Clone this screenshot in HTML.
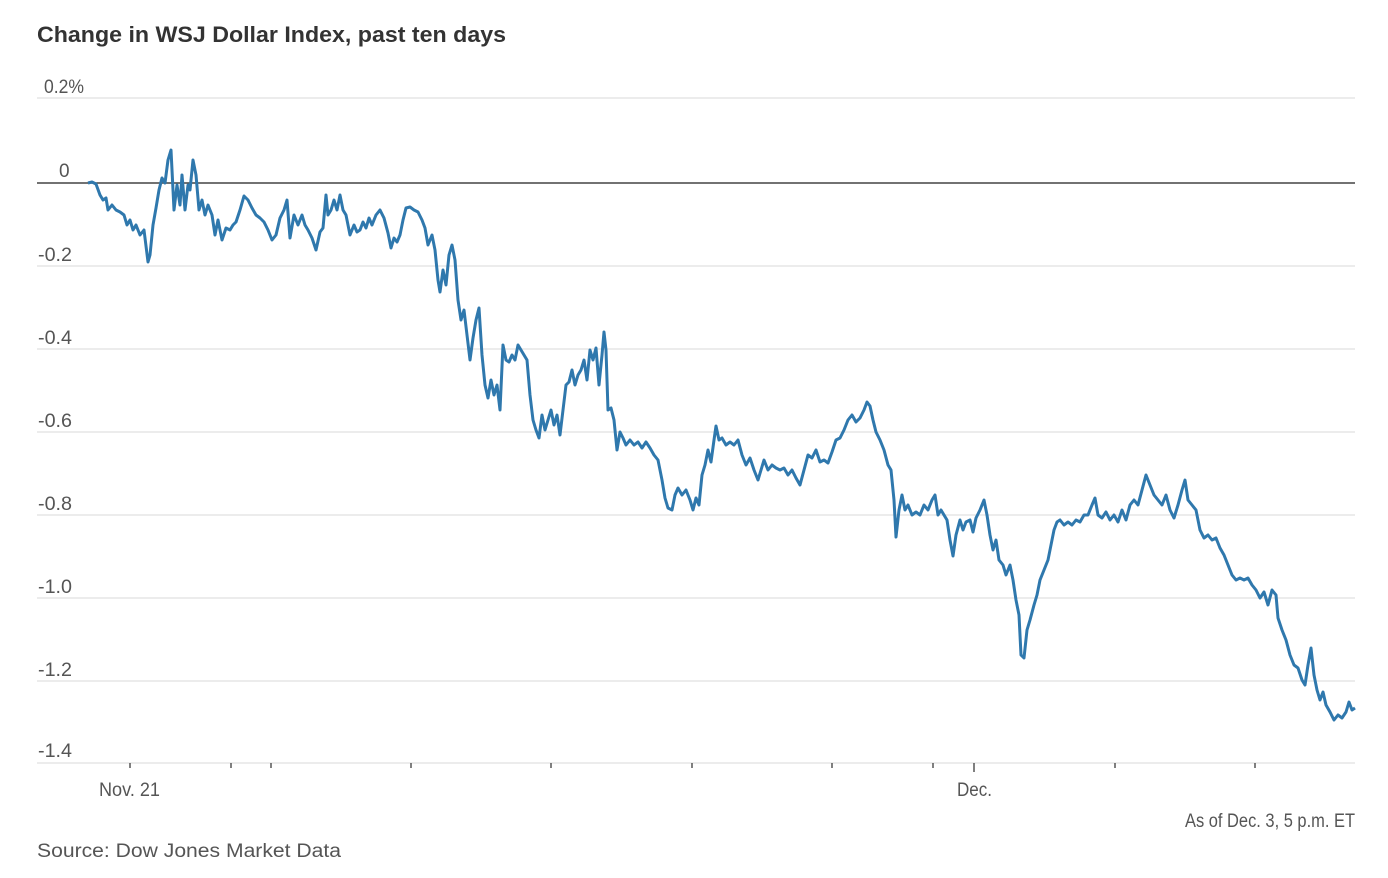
<!DOCTYPE html>
<html><head><meta charset="utf-8"><style>
body{margin:0;background:#fff;}
svg{display:block;}
text{font-family:"Liberation Sans",Arial,sans-serif;}
</style></head><body>
<svg width="1388" height="878" viewBox="0 0 1388 878" xmlns="http://www.w3.org/2000/svg">
<text x="37" y="42" font-size="22" font-weight="bold" fill="#333" textLength="469" lengthAdjust="spacingAndGlyphs">Change in WSJ Dollar Index, past ten days</text>
<g stroke="#e6e6e6" stroke-width="1.5">
<line x1="37" x2="1355" y1="98" y2="98"/>
<line x1="37" x2="1355" y1="266" y2="266"/>
<line x1="37" x2="1355" y1="349" y2="349"/>
<line x1="37" x2="1355" y1="432" y2="432"/>
<line x1="37" x2="1355" y1="515" y2="515"/>
<line x1="37" x2="1355" y1="598" y2="598"/>
<line x1="37" x2="1355" y1="681" y2="681"/>
<line x1="37" x2="1355" y1="763" y2="763"/>
</g>
<line x1="37" x2="1355" y1="183" y2="183" stroke="#444" stroke-width="1.5"/>
<g font-size="19" fill="#555">
<text x="44" y="93" textLength="40" lengthAdjust="spacingAndGlyphs">0.2%</text>
<text x="59" y="177">0</text>
<text x="38" y="261" textLength="34" lengthAdjust="spacingAndGlyphs">-0.2</text>
<text x="38" y="344" textLength="34" lengthAdjust="spacingAndGlyphs">-0.4</text>
<text x="38" y="427" textLength="34" lengthAdjust="spacingAndGlyphs">-0.6</text>
<text x="38" y="510" textLength="34" lengthAdjust="spacingAndGlyphs">-0.8</text>
<text x="38" y="593" textLength="34" lengthAdjust="spacingAndGlyphs">-1.0</text>
<text x="38" y="676" textLength="34" lengthAdjust="spacingAndGlyphs">-1.2</text>
<text x="38" y="757" textLength="34" lengthAdjust="spacingAndGlyphs">-1.4</text>
<text x="99" y="796" textLength="61" lengthAdjust="spacingAndGlyphs">Nov. 21</text>
<text x="957" y="796" textLength="35" lengthAdjust="spacingAndGlyphs">Dec.</text>
<text x="1185" y="827" textLength="170" lengthAdjust="spacingAndGlyphs">As of Dec. 3, 5 p.m. ET</text>
<text x="37" y="857" textLength="304" lengthAdjust="spacingAndGlyphs">Source: Dow Jones Market Data</text>
</g>
<g stroke="#555" stroke-width="1.5">
<line x1="130" x2="130" y1="763" y2="768"/>
<line x1="231" x2="231" y1="763" y2="768"/>
<line x1="271" x2="271" y1="763" y2="768"/>
<line x1="411" x2="411" y1="763" y2="768"/>
<line x1="551" x2="551" y1="763" y2="768"/>
<line x1="692" x2="692" y1="763" y2="768"/>
<line x1="832" x2="832" y1="763" y2="768"/>
<line x1="933" x2="933" y1="763" y2="768"/>
<line x1="974" x2="974" y1="763" y2="772"/>
<line x1="1115" x2="1115" y1="763" y2="768"/>
<line x1="1255" x2="1255" y1="763" y2="768"/>
</g>
<polyline fill="none" stroke="#2f78ad" stroke-width="3" stroke-linejoin="round" points="88,183 92,182 96,184 100,195 103,200 106,198 108,210 112,205 116,210 120,212 124,215 127,225 130,220 133,230 136,225 140,235 144,230 148,262 150,255 153,225 156,208 159,190 162,178 165,183 168,160 171,150 174,210 177,185 180,205 182,175 185,210 188,185 190,190 193,160 196,175 199,210 202,200 205,215 208,205 212,215 215,235 218,220 222,240 226,228 230,230 233,225 236,222 240,210 244,196 248,200 252,208 256,215 260,218 264,222 268,230 272,240 276,235 280,218 284,210 287,200 290,238 294,215 298,225 302,215 305,225 308,230 312,238 316,250 320,232 323,228 326,195 328,215 331,210 334,200 337,210 340,195 343,210 346,215 350,235 354,225 357,232 360,230 363,222 366,228 369,218 372,225 376,215 380,210 384,218 388,233 391,248 394,238 397,242 400,235 403,220 406,208 410,207 414,210 418,212 422,220 425,228 428,245 432,235 435,250 438,280 440,292 443,270 446,285 449,255 452,245 455,260 458,300 461,320 464,310 467,335 470,360 473,338 476,320 479,308 482,355 485,385 488,398 491,380 494,395 497,385 500,410 503,345 506,360 509,362 512,355 515,360 518,345 521,350 524,355 527,360 530,395 533,420 536,430 539,438 542,415 545,430 548,420 551,410 554,425 557,415 560,435 563,410 566,385 569,382 572,370 575,385 578,375 581,370 584,360 587,380 590,350 593,360 596,348 599,385 602,355 604,332 606,350 608,410 611,408 614,420 617,450 620,432 623,438 626,445 630,440 634,445 638,442 642,448 646,442 650,448 654,455 658,460 662,480 665,498 668,508 672,510 675,495 678,488 682,495 686,490 690,500 693,510 696,498 699,505 702,475 705,465 708,450 711,462 714,440 716,426 719,440 722,438 726,445 730,442 734,445 738,440 742,455 746,465 750,458 754,470 758,480 761,470 764,460 768,470 772,465 776,468 780,470 784,468 788,475 792,470 796,478 800,485 804,470 808,455 812,458 816,450 820,462 824,460 828,463 832,452 836,440 840,438 844,430 848,420 852,415 856,422 860,418 864,410 867,402 870,406 873,420 876,432 880,440 884,450 888,465 891,470 894,500 896,537 899,510 902,495 905,510 908,505 912,515 916,512 920,515 924,505 928,510 932,500 935,495 938,515 941,510 944,515 947,520 950,540 953,556 956,535 960,520 963,530 966,522 970,520 973,532 976,518 980,510 984,500 987,515 990,535 993,550 996,540 999,560 1003,565 1006,575 1010,565 1013,580 1016,600 1019,615 1021,655 1024,658 1027,630 1030,620 1034,605 1037,595 1040,580 1044,570 1048,560 1051,545 1054,530 1057,522 1060,520 1064,525 1068,522 1072,525 1076,520 1080,522 1084,515 1088,515 1092,505 1095,498 1098,515 1102,518 1106,512 1110,520 1114,515 1118,522 1122,510 1126,520 1130,505 1134,500 1138,505 1142,490 1146,475 1150,485 1154,495 1158,500 1162,505 1166,495 1170,510 1174,518 1178,505 1182,490 1185,480 1188,500 1192,505 1196,510 1200,530 1204,538 1208,535 1212,540 1216,538 1220,548 1224,555 1228,565 1232,575 1236,580 1240,578 1244,580 1248,578 1252,585 1256,590 1260,598 1264,592 1268,605 1272,590 1276,595 1278,618 1282,630 1286,640 1290,655 1294,665 1298,668 1302,680 1305,685 1308,665 1311,648 1314,675 1317,690 1320,700 1323,692 1326,705 1330,712 1334,720 1338,715 1342,718 1346,712 1349,702 1352,710 1355,708"/>
</svg>
</body></html>
